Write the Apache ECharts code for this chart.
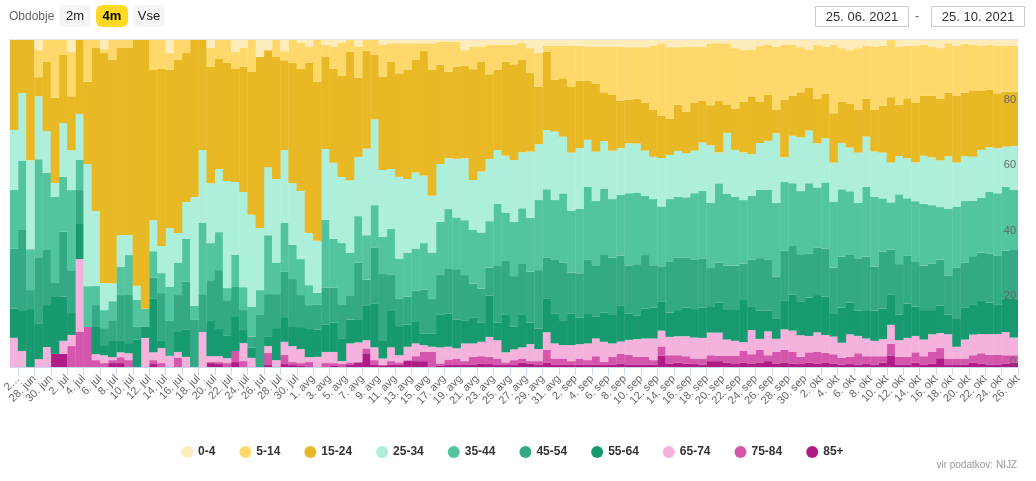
<!DOCTYPE html>
<html lang="sl">
<head>
<meta charset="utf-8">
<title>Potrjeni primeri po starostnih skupinah</title>
<script src="https://cdn.jsdelivr.net/npm/echarts@6/dist/echarts.min.js"></script>
<style>
  body { margin: 0; background: #fff; font-family: Arial, "Liberation Sans", sans-serif; }
  #wrap { position: relative; width: 1036px; height: 481px; overflow: hidden; }
  #main { position: absolute; left: 0; top: 0; width: 1036px; height: 481px; }
  .lbl { position: absolute; left: 9px; top: 9px; font-size: 12px; color: #666; z-index: 2; }
  .btn { position: absolute; top: 5px; width: 32px; height: 22px; line-height: 22px; text-align: center;
         font-size: 13px; color: #222; background: #f5f5f5; border-radius: 6px; z-index: 2; }
  .btn.on { background: #ffd922; font-weight: bold; color: #000; }
  .date { position: absolute; top: 6px; width: 92px; height: 19px; line-height: 19px; border: 1px solid #ccc;
          text-align: center; font-size: 13px; color: #333; z-index: 2; }
  .dash { position: absolute; top: 8px; left: 915px; font-size: 13px; color: #666; z-index: 2; }
</style>
</head>
<body>
<div id="wrap">
  <div id="main"></div>
  <span class="lbl">Obdobje</span>
  <span class="btn" style="left:59px">2m</span>
  <span class="btn on" style="left:96px">4m</span>
  <span class="btn" style="left:133px">Vse</span>
  <span class="date" style="left:815px">25. 06. 2021</span>
  <span class="dash">-</span>
  <span class="date" style="left:931px">25. 10. 2021</span>
</div>
<script>
// dnevi 25. 6. 2021 - 25. 10. 2021 (stolpci) in meje dni za oznake osi
var MONTHS = ['jan', 'feb', 'mar', 'apr', 'maj', 'jun', 'jul', 'avg', 'sep', 'okt', 'nov', 'dec'];
function dayName(i) {
  var d = new Date(2021, 5, 25 + i);
  return d.getDate() + '. ' + MONTHS[d.getMonth()];
}
var days = [];
for (var i = 0; i < 123; i++) days.push(dayName(i));
var dayTicks = [];
for (var j = 0; j < 124; j++) dayTicks.push(dayName(j));

var groups = ['0-4', '5-14', '15-24', '25-34', '35-44', '45-54', '55-64', '65-74', '75-84', '85+'];
var colors = ['#ffecbb', '#ffd86b', '#e8b825', '#adefdb', '#53c4a0', '#33aa85', '#179a6f', '#f4b2dc', '#d457ad', '#b01c86'];

// delez potrjenih primerov po starostnih skupinah (%)
var age0_4 = [0,0,0,3.1,0,0,0,3.7,0,0, 0,2.8,0,0,0,0,0,0,0,4.0, 0,0,0,0,2.4,0,0,3.7,2.4,0,
  5.2,3.1,0,3.4,0,0.9,2.1,0,1.5,2.1, 0.9,0,2.0,0,0,1.5,1.0,1.0,1.0,1.0, 1.0,1.0,0.5,0.5,0.5,3.1,2.0,2.0,1.5,1.5,
  1.5,1.5,0.8,2.5,3.9,1.7,1.7,1.7,1.7,1.7, 2.0,2.0,2.0,2.0,2.0,2.2,2.2,2.2,1.8,1.0, 2.2,2.2,2.0,2.0,2.0,1.0,1.0,1.0,2.5,3.1,
  2.9,1.8,1.5,2.0,1.5,1.5,2.2,2.9,1.5,2.0, 1.5,2.5,3.1,2.5,1.8,2.0,1.8,0,2.0,1.8, 1.8,1.5,2.0,2.5,1.0,1.8,1.2,1.5,1.7,1.5,
  1.8,1.7,1.7];
var age5_14 = [0,0,0,8.3,6.7,17.7,4.6,13.5,0,12.8, 2.4,1.2,6.1,2.4,2.4,0,0,9.2,8.9,5.2, 6.1,4.0,0,0,5.8,5.8,7.0,5.2,5.8,9.8,
  0,0,5.2,2.8,7.0,8.0,4.9,12.8,3.7,6.7, 10.1,3.6,9.5,3.3,4.6,9.7,5.7,9.2,8.0,5.1, 2.2,8.2,7.1,9.2,7.6,4.8,6.9,4.7,9.0,7.6,
  5.2,5.9,5.3,7.6,10.4,1.9,10.5,10.0,12.5,10.8, 10.5,11.4,14.0,14.8,16.6,16.1,15.8,16.9,19.6,22.2,
  21.9,17.6,19.9,17.1,16.6,18.9,17.6,18.9,18.6,15.8, 14.3,17.0,15.3,19.4,16.8,15.5,13.8,11.7,16.5,14.5,
  20.9,16.3,16.3,18.9,16.2,19.4,18.3,17.5,17.8,16.0, 17.3,15.6,15.1,15.5,15.1,15.3,14.9,14.1,13.9,13.8,
  14.5,14.1,14.1];
var age15_24 = [27.5,16.2,36.7,5.8,21.1,26.0,20.8,16.5,22.6,25.1, 49.8,70.3,68.2,57.2,57.2,75.2,82.3,45.9,54.1,48.3,
  52.9,45.6,48.0,33.6,35.5,33.6,36.1,34.6,38.2,43.7, 52.3,35.8,37.3,27.5,36.7,37.3,52.0,48.6,28.1,28.7,
  30.9,39.2,24.2,29.9,19.7,28.5,32.7,31.6,33.5,34.4, 38.2,38.4,30.3,26.5,28.2,28.3,33.8,33.5,25.9,24.5,
  28.7,29.3,28.2,24.0,17.5,23.9,15.8,17.8,20.2,20.6, 18.0,20.7,14.9,17.0,14.5,13.3,13.6,14.7,14.3,12.9,
  11.0,14.1,12.7,14.7,12.7,12.2,15.7,8.5,12.5,15.5, 17.7,12.7,14.0,7.1,17.5,12.3,13.8,13.1,13.6,13.6,
  15.1,12.7,13.5,13.0,11.5,12.7,14.3,20.0,15.6,18.3, 18.3,18.3,18.8,18.9,19.4,20.4,19.4,20.1,18.0,17.5,
  16.8,16.8,16.6];
var age25_34 = [18.3,20.8,27.2,19.3,12.8,4.3,16.5,12.2,14.1,37.3, 22.9,8.3,5.5,9.8,6.1,4.3,0,9.5,8.3,18.0,
  9.2,11.3,33.3,22.3,18.3,19.3,32.7,22.3,29.1,28.1, 19.0,20.8,25.7,22.3,19.0,20.8,15.9,15.9,21.7,23.2,
  20.2,22.2,18.1,26.5,26.2,20.4,18.3,25.0,22.5,23.2, 20.7,17.4,17.6,15.5,17.9,18.9,15.3,18.6,19.0,16.5,
  17.3,18.9,17.1,20.2,17.1,18.1,20.9,17.3,17.7,18.6, 14.3,15.1,14.5,14.8,14.3,15.3,15.0,13.8,12.9,14.8,
  13.5,14.0,13.5,13.0,14.8,17.6,9.5,18.6,14.3,14.6, 12.7,14.3,14.9,21.2,7.6,14.5,16.4,16.1,13.5,13.5,
  11.9,14.1,13.4,15.3,15.3,13.8,14.0,12.2,11.7,12.2, 11.9,14.7,14.6,14.3,16.0,13.5,13.8,13.5,14.6,13.6,
  13.8,12.2,13.3];
var age35_44 = [18.0,21.1,12.5,30.0,23.5,26.3,16.8,24.5,9.2,12.5, 5.8,5.5,5.8,8.6,12.2,8.3,5.5,8.0,6.1,10.4,
  9.8,13.1,4.3,22.0,11.3,11.6,3.7,9.8,7.0,9.2, 7.6,18.0,9.5,15.0,10.4,11.0,6.1,3.7,20.8,15.0,
  18.7,12.9,14.2,13.6,12.9,11.4,13.9,12.2,13.5,12.9, 14.3,14.0,16.1,18.1,15.8,16.8,16.3,17.1,14.2,18.7,
  14.8,16.6,16.8,16.5,21.4,20.8,18.3,21.1,19.0,19.7, 22.2,19.6,20.1,17.9,18.6,22.1,21.9,18.1,20.2,18.3,
  19.0,18.7,18.5,20.4,20.6,19.9,24.2,22.1,21.1,19.4, 19.5,20.9,21.3,22.6,20.9,19.2,19.3,21.6,18.3,20.2,
  20.2,20.6,19.3,17.2,21.4,21.4,16.3,14.5,21.3,17.6, 18.6,18.9,17.8,16.1,20.4,18.6,18.9,16.9,16.8,18.9,
  19.2,19.6,18.2];
var age45_54 = [18.3,24.5,5.8,20.2,16.8,4.3,19.9,13.1,10.1,0, 6.7,5.2,6.1,13.8,14.7,4.0,0,6.4,14.4,10.7,
  11.3,14.7,14.4,11.3,12.2,18.0,10.7,9.2,6.1,3.4, 15.9,13.1,10.4,14.1,14.4,9.8,7.3,7.6,11.3,10.7,
  10.4,7.4,17.3,7.8,17.3,20.2,11.2,8.5,8.5,9.3, 13.3,10.7,12.2,13.8,15.5,13.8,10.5,10.5,8.5,17.6,
  16.5,15.5,15.8,15.5,17.8,12.5,16.3,17.6,12.4,13.6, 16.7,15.6,17.8,17.5,15.4,14.8,15.6,16.3,13.0,10.9,
  15.7,16.0,15.3,15.0,15.1,11.9,12.2,13.3,13.3,11.2, 14.3,16.1,15.6,12.7,15.4,14.8,14.6,13.4,14.6,14.8,
  14.2,15.6,14.8,15.8,16.6,13.5,17.3,13.8,15.4,14.5, 13.6,13.6,14.3,14.1,12.0,15.8,13.8,14.7,14.8,15.1,
  15.0,14.6,15.1];
var age55_64 = [8.9,12.5,17.7,11.0,12.8,17.4,13.5,6.7,11.0,0, 8.3,3.1,5.2,3.7,3.1,8.3,3.4,16.5,2.4,0,
  6.1,8.3,0,0,11.0,8.3,7.0,10.4,4.0,3.1, 0,2.8,9.8,7.3,6.1,6.7,8.6,8.3,8.3,8.9,
  7.0,7.3,7.1,10.7,13.3,5.6,11.1,8.9,6.8,6.8, 3.6,4.1,10.1,10.2,8.7,7.1,7.8,5.8,12.7,5.3,
  11.4,6.9,9.9,6.6,6.3,10.4,9.2,7.6,9.7,8.1, 9.0,6.8,9.0,8.7,10.9,8.0,7.3,9.2,9.4,8.8,
  7.4,8.0,8.7,8.7,9.2,7.8,9.2,9.3,9.7,12.9, 7.3,8.6,6.4,6.3,8.7,11.1,10.2,11.7,11.4,11.7,
  6.9,10.7,9.7,7.7,8.4,9.2,9.4,9.2,7.8,10.5, 9.0,9.0,7.4,8.4,6.0,8.5,9.7,9.3,10.1,9.6,
  8.9,10.2,11.9];
var age65_74 = [8.9,4.9,0,2.4,6.1,0,4.0,3.4,22.3,0, 1.8,2.4,0.9,1.5,2.1,0,8.9,2.4,4.6,3.4,
  1.8,3.1,0,10.7,1.8,1.8,1.5,0,5.5,2.8, 0,2.1,2.1,4.0,4.9,4.3,1.5,3.1,3.4,3.4,
  0.9,5.8,5.9,2.5,3.9,2.0,4.2,2.2,4.1,3.9, 2.0,1.5,4.9,3.9,3.1,5.4,4.1,4.4,6.1,5.6,
  3.1,3.3,3.4,5.2,3.7,5.4,4.6,4.1,4.9,4.4, 5.1,5.4,6.1,4.1,3.8,4.6,5.4,5.6,6.6,4.8,
  5.6,5.8,6.1,6.4,6.3,6.9,7.1,5.0,4.6,2.7, 7.4,3.4,7.3,3.9,6.3,6.4,6.6,5.0,5.9,5.4,
  5.4,4.6,6.9,5.3,5.4,4.7,5.2,5.8,5.1,5.8, 5.0,5.1,5.3,4.6,7.4,3.6,5.8,6.3,5.9,6.4,
  6.4,7.1,5.4];
var age75_84 = [0,0,0,0,0,0,0,6.4,10.7,12.2, 2.1,1.2,0.9,1.8,2.1,0,0,1.2,1.2,0,
  2.8,0,0,0,0.3,0.6,1.2,3.4,1.8,0, 0,3.7,0,2.8,0.9,0.9,1.5,0,1.2,0.9,
  0.9,0.8,0.3,1.5,1.5,0.3,1.0,0.8,0.2,1.5, 2.9,4.7,0.8,1.7,2.0,1.2,2.3,2.2,2.2,2.0,
  0.8,1.5,1.3,0.7,1.2,3.9,1.8,1.8,1.2,1.8, 1.5,2.5,1.0,2.3,2.9,2.9,2.3,2.3,1.3,2.9,
  2.5,2.3,2.2,1.7,1.8,1.8,1.6,2.0,2.5,3.5, 2.8,3.8,1.8,3.6,3.8,3.6,2.2,3.2,3.6,3.0,
  2.8,2.0,2.2,3.4,2.4,2.5,2.0,3.7,2.3,2.3, 3.2,2.5,3.6,3.1,2.0,2.0,1.8,2.2,3.1,2.9,
  2.9,2.5,2.2];
var age85 = [0,0,0,0,0,4.0,4.0,0,0,0, 0,0,1.2,1.2,0,0,0,0.9,0,0,
  0,0,0,0,1.2,0.9,0,1.5,0,0, 0,0.6,0,0.9,0.6,0.3,0,0,0,0.3,
  0,0.6,1.3,4.2,0.6,0.3,0.8,0.6,1.9,1.8, 1.8,0,0.3,0.6,0.6,0.6,0.8,1.1,0.9,0.6,
  0.6,0.6,1.3,1.1,0.6,1.3,0.8,0.8,0.6,0.8, 0.6,0.8,0.6,0.8,1.1,0.8,0.8,0.8,0.8,3.4,
  1.1,1.3,1.1,0.9,0.8,1.8,1.8,1.4,0.9,1.4, 1.1,1.4,1.8,1.1,1.4,1.1,0.9,1.3,1.1,1.4,
  1.1,0.8,0.9,0.8,0.9,0.8,1.3,3.4,0.8,0.8, 1.3,0.8,1.1,2.7,0.6,0.6,0.8,1.4,1.1,0.8,
  0.8,1.1,1.4];

var byGroup = [age0_4, age5_14, age15_24, age25_34, age35_44, age45_54, age55_64, age65_74, age75_84, age85];

// vsak dan na 100 %
var totals = days.map(function (d, k) {
  var s = 0;
  byGroup.forEach(function (arr) { s += arr[k]; });
  return s;
});

var series = [];
for (var g = groups.length - 1; g >= 0; g--) {
  series.push({
    name: groups[g],
    type: 'bar',
    stack: 'all',
    xAxisIndex: 0,
    // malo sirsi od kategorije, da med stolpci ni belih rez
    barWidth: 8.6,
    itemStyle: { color: colors[g] },
    data: byGroup[g].map(function (v, k) { return v * 100 / totals[k]; })
  });
}

function everyOther(index) { return index % 2 === 1; }

var chart = echarts.init(document.getElementById('main'));
chart.setOption({
  animation: false,
  textStyle: { fontFamily: 'Arial, "Liberation Sans", sans-serif' },
  grid: { left: 9, right: 18, top: 40, bottom: 114 },
  legend: {
    data: groups,
    left: 176,
    top: 441,
    icon: 'circle',
    itemWidth: 12,
    itemHeight: 12,
    itemGap: 24,
    textStyle: { fontSize: 12, fontWeight: 'bold', color: '#333' }
  },
  xAxis: [
    { type: 'category', data: days, show: false, position: 'top' },
    {
      type: 'category',
      data: dayTicks,
      boundaryGap: false,
      position: 'bottom',
      axisLine: { lineStyle: { color: '#ccd6eb' } },
      axisTick: { interval: everyOther, length: 8, lineStyle: { color: '#ccd6eb' } },
      axisLabel: {
        interval: everyOther,
        rotate: 45,
        margin: 10,
        fontSize: 11,
        color: '#666',
        formatter: function (v, idx) { return idx === 1 ? '2…' : v; }
      }
    }
  ],
  yAxis: {
    type: 'value',
    z: 10,
    min: 0,
    max: 100,
    interval: 20,
    position: 'right',
    axisLine: { show: false },
    axisTick: { show: false },
    splitLine: { show: false },
    axisLabel: {
      inside: true,
      margin: 2,
      verticalAlign: 'bottom',
      fontSize: 11,
      color: '#666',
      formatter: function (v) { return v === 100 ? '' : v; }
    }
  },
  graphic: [
    {
      type: 'line',
      shape: { x1: 9, y1: 39.5, x2: 1018, y2: 39.5 },
      style: { stroke: '#e6e6e6', lineWidth: 1 },
      z: 0
    },
    {
      type: 'text',
      right: 19,
      top: 460,
      style: { text: 'vir podatkov: NIJZ', fill: '#999', font: '10px Arial, "Liberation Sans", sans-serif' }
    }
  ],
  series: series
});
</script>
</body>
</html>
